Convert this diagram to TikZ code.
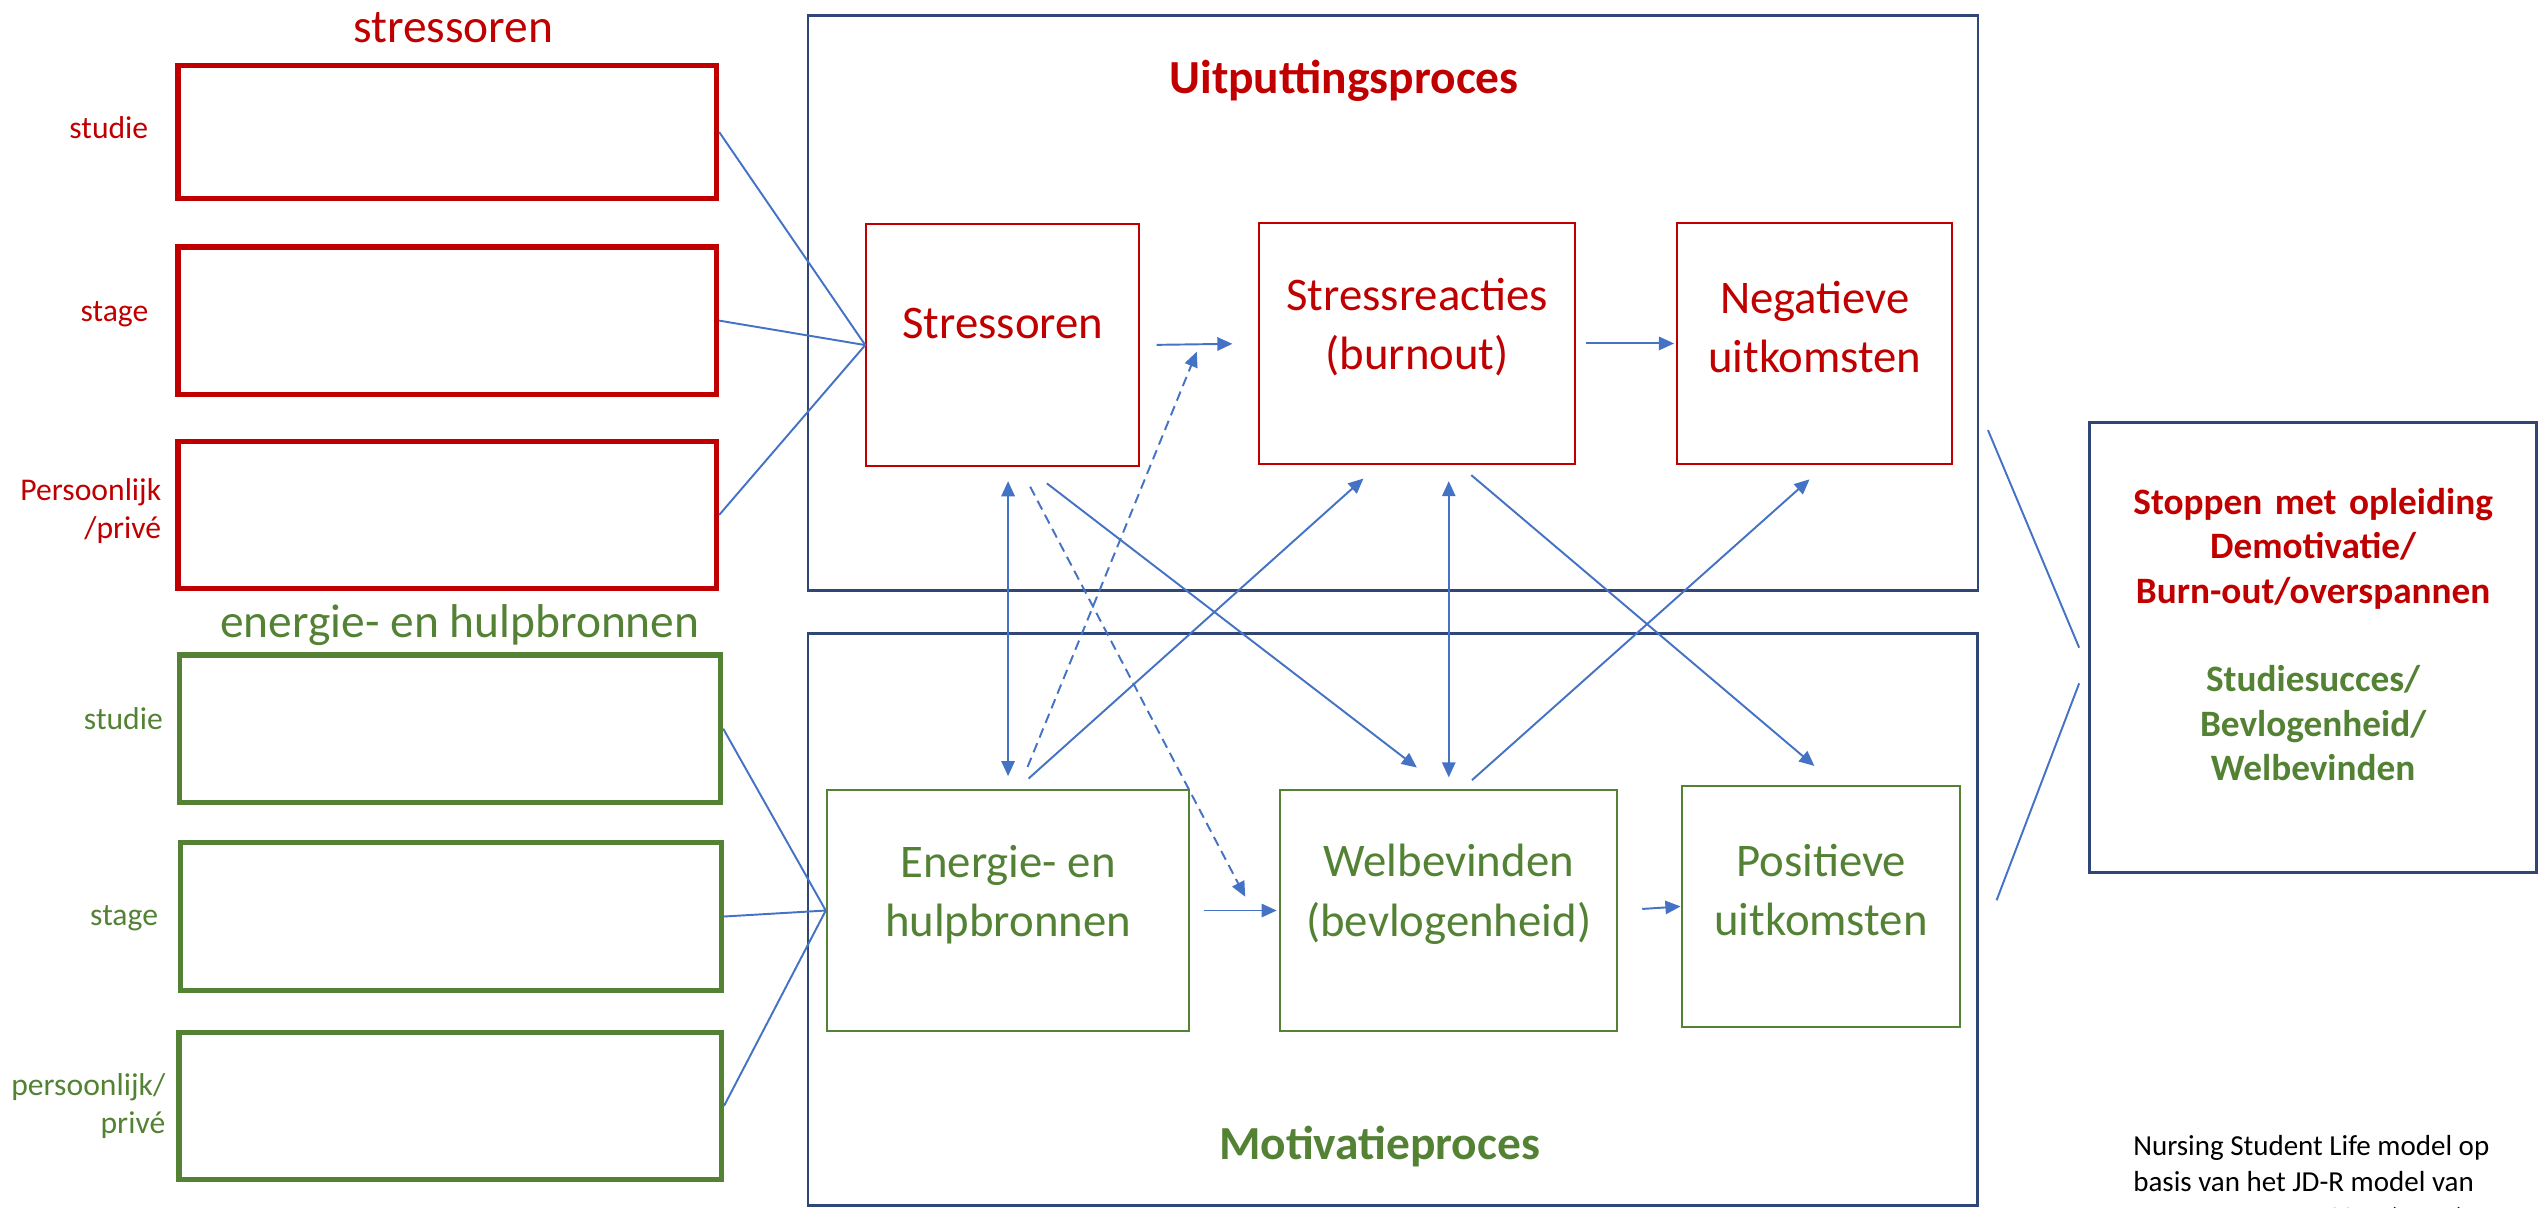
\documentclass[tikz,border=0pt]{standalone}
\usepackage{fontspec}
\setmainfont{Carlito}
\usetikzlibrary{fit,arrows.meta}
\definecolor{rd}{HTML}{C00000}
\definecolor{gr}{HTML}{548235}
\definecolor{bl}{HTML}{4472C4}
\definecolor{nv}{HTML}{2F4676}
\tikzset{
  thickred/.style={draw=rd, line width=1.5pt, inner sep=0pt},
  thickgreen/.style={draw=gr, line width=1.5pt, inner sep=0pt},
  procbox/.style={draw=nv, line width=0.8pt, inner sep=0pt},
  redbox/.style={draw=rd, line width=0.6pt, inner sep=0pt, text=rd, align=center,
    font=\fontsize{13.3pt}{16.8pt}\selectfont},
  greenbox/.style={draw=gr, line width=0.6pt, inner sep=0pt, text=gr, align=center,
    font=\fontsize{13.3pt}{16.8pt}\selectfont},
  conn/.style={draw=bl, line width=0.55pt},
  arr/.style={conn, -{Triangle[length=4.3pt,width=3.8pt]}},
  darr/.style={conn, {Triangle[length=4.3pt,width=3.8pt]}-{Triangle[length=4.3pt,width=3.8pt]}},
  dsh/.style={dash pattern=on 2.8pt off 1.7pt},
  lbl/.style={font=\fontsize{9pt}{10.8pt}\selectfont, align=right, anchor=east, inner sep=0pt},
  ttl/.style={font=\fontsize{13.5pt}{16pt}\selectfont, inner sep=0pt},
  bttl/.style={font=\fontsize{13.5pt}{16pt}\selectfont\bfseries, inner sep=0pt},
}
\begin{document}
\begin{tikzpicture}[x=0.016193cm, y=-0.016193cm]
\useasboundingbox (0,0) rectangle (1568,746);

% process frames
\node[procbox, fit={(499,9.5) (1221.5,364.5)}] (top) {};
\node[procbox, fit={(499,391) (1221,744.5)}] (bot) {};
\node[bttl, text=rd] (ttop) at (830,50) {Uitputtingsproces};
\node[bttl, text=gr] (tbot) at (852,708) {Motivatieproces};

% left titles
\node[ttl, text=rd] (tst) at (280,17) {stressoren};
\node[ttl, text=gr] (ten) at (284,386) {energie- en hulpbronnen};

% left boxes
\node[thickred, fit={(110,40.5) (442.5,122.5)}] (s1) {};
\node[thickred, fit={(110,152.5) (442.5,243.5)}] (s2) {};
\node[thickred, fit={(110,272.5) (442.5,363.5)}] (s3) {};
\node[thickgreen, fit={(111,404.5) (445,495.5)}] (e1) {};
\node[thickgreen, fit={(111.5,520.5) (445.5,611.5)}] (e2) {};
\node[thickgreen, fit={(110.5,637.5) (445.5,728.5)}] (e3) {};

% left labels
\node[lbl, text=rd] (ls1) at (92,79) {studie};
\node[lbl, text=rd] (ls2) at (92,194) {stage};
\node[lbl, text=rd] (ls3) at (100,315.5) {Persoonlijk\\/privé};
\node[lbl, text=gr] (le1) at (101,443.6) {studie};
\node[lbl, text=gr] (le2) at (98,567) {stage};
\node[lbl, text=gr] (le3) at (102.5,683) {persoonlijk/\\privé};

% inner boxes
\node[redbox, fit={(535,138.4) (703.6,287.8)},
  label={[text=rd, font=\fontsize{13.3pt}{16.8pt}\selectfont, yshift=6pt]center:Stressoren}] (st) {};
\node[redbox, fit={(777.6,137.5) (972.8,286.7)}] (sr) {Stressreacties\\(burnout)};
\node[redbox, fit={(1035.8,137.5) (1205.7,286.7)}] (neg) {Negatieve\\uitkomsten};
\node[greenbox, fit={(510.6,488) (734.5,636.6)}] (en) {Energie- en\\hulpbronnen};
\node[greenbox, fit={(790.6,488) (998.8,636.6)}] (wb) {Welbevinden\\(bevlogenheid)};
\node[greenbox, fit={(1038.9,485.5) (1210.3,634)}] (pos) {Positieve\\uitkomsten};

% outcome box
\node[procbox, fit={(1290.5,261) (1566.5,539)}, align=center,
  font=\fontsize{10.6pt}{12.6pt}\selectfont\bfseries] (out)
  {\textcolor{rd}{Stoppen met opleiding}\\\textcolor{rd}{Demotivatie/}\\\textcolor{rd}{Burn-out/overspannen}\\[12.6pt]\textcolor{gr}{Studiesucces/}\\\textcolor{gr}{Bevlogenheid/}\\\textcolor{gr}{Welbevinden}};

% note
\node[anchor=west, align=left, inner sep=0pt, font=\fontsize{8.25pt}{10.4pt}\selectfont] (note) at (1317,731)
  {Nursing Student Life model op\\basis van het JD-R model van\\Demerouti en Bakker (2020)};

% converging lines
\draw[conn] (s1.east) -- (st.west);
\draw[conn] (s2.east) -- (st.west);
\draw[conn] (s3.east) -- (st.west);
\draw[conn] (e1.east) -- (en.west);
\draw[conn] (e2.east) -- (en.west);
\draw[conn] (e3.east) -- (en.west);

% horizontal arrows
\draw[arr, shorten <=4.6pt, shorten >=7.3pt] (st.east) -- (sr.west);
\draw[arr, shorten <=2.85pt, shorten >=0.6pt] (sr.east) -- (neg.west);
\draw[arr, shorten <=3.9pt, shorten >=0.7pt] (en.east) -- (wb.west);
\draw[arr, shorten <=6.8pt, shorten >=0.2pt] (wb.east) -- (pos.west);

% vertical double arrows
\draw[darr, shorten <=4pt, shorten >=3.7pt] (st.south -| en.north) -- (en.north);
\draw[darr, shorten <=4.5pt, shorten >=3.35pt] (sr.south -| wb.north) -- (wb.north);

% diagonal connectors
\coordinate (d1a) at (634.6,473.6); \coordinate (d1b) at (739.1,217.2);
\coordinate (d2a) at (636.2,300.6); \coordinate (d2b) at (769,553.8);
\coordinate (l1a) at (635.2,480.8); \coordinate (l1b) at (842,295.5);
\coordinate (l2a) at (646.5,298.5); \coordinate (l2b) at (875,474);
\coordinate (l3a) at (908.6,293.4); \coordinate (l3b) at (1120.5,473);
\coordinate (l4a) at (909,481.8);   \coordinate (l4b) at (1117.5,296);
\coordinate (r1a) at (1227.7,265.6); \coordinate (r1b) at (1284,400);
\coordinate (r2a) at (1284,422);    \coordinate (r2b) at (1233,556);

\draw[arr, dsh] (d1a) -- (d1b);
\draw[arr, dsh] (d2a) -- (d2b);
\draw[arr] (l1a) -- (l1b);
\draw[arr] (l2a) -- (l2b);
\draw[arr] (l3a) -- (l3b);
\draw[arr] (l4a) -- (l4b);
\draw[conn] (r1a) -- (r1b);
\draw[conn] (r2a) -- (r2b);
\end{tikzpicture}
\end{document}
